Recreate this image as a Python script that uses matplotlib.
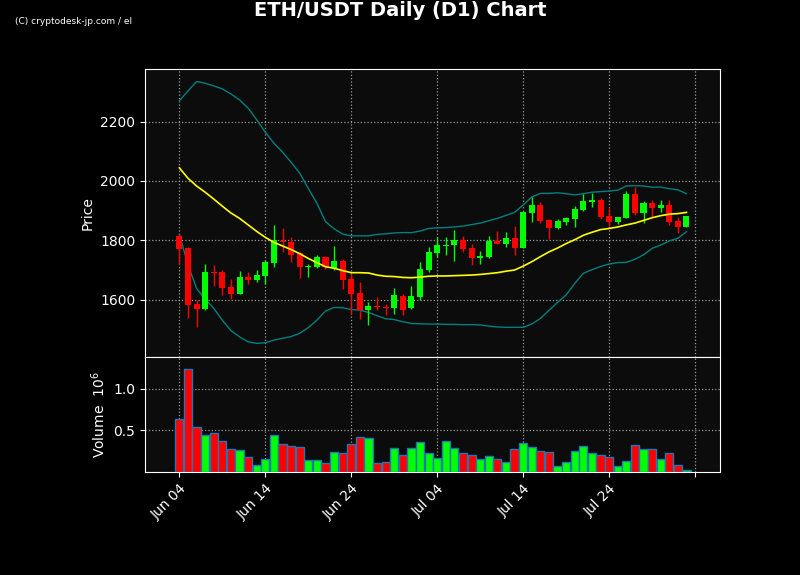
import matplotlib
matplotlib.use("Agg")
import matplotlib.pyplot as plt
import matplotlib.dates as mdates
import numpy as np
import pandas as pd

# Daily candles, Jun 04 .. Aug 02
dates = pd.date_range("2023-06-04", periods=60, freq="D")

opens = [1815, 1774, 1585, 1570, 1693, 1693, 1643, 1620, 1677, 1667,
         1681, 1725, 1799, 1794, 1756, 1710, 1711, 1744, 1708, 1730,
         1670, 1622, 1567, 1580, 1575, 1571, 1614, 1571, 1610, 1700,
         1758, 1781, 1785, 1801, 1774, 1740, 1744, 1798, 1789, 1808,
         1775, 1893, 1919, 1869, 1843, 1862, 1873, 1902, 1929, 1935,
         1881, 1862, 1876, 1956, 1893, 1926, 1909, 1919, 1865, 1846]
highs = [1820, 1778, 1599, 1721, 1716, 1699, 1669, 1696, 1692, 1699,
         1733, 1851, 1840, 1810, 1762, 1719, 1751, 1748, 1780, 1737,
         1685, 1661, 1592, 1610, 1586, 1638, 1620, 1647, 1726, 1776,
         1810, 1810, 1834, 1813, 1787, 1763, 1813, 1830, 1827, 1847,
         1899, 1946, 1930, 1872, 1871, 1880, 1917, 1955, 1958, 1942,
         1909, 1878, 1967, 1981, 1931, 1937, 1937, 1937, 1878, 1881]
lows = [1719, 1539, 1507, 1564, 1646, 1616, 1604, 1618, 1652, 1661,
        1654, 1709, 1760, 1726, 1672, 1678, 1706, 1702, 1701, 1636,
        1553, 1534, 1515, 1565, 1548, 1551, 1549, 1569, 1598, 1694,
        1745, 1749, 1729, 1760, 1716, 1721, 1739, 1788, 1779, 1751,
        1773, 1863, 1857, 1803, 1837, 1853, 1844, 1900, 1911, 1871,
        1849, 1855, 1874, 1884, 1857, 1880, 1894, 1851, 1825, 1846]
closes = [1772, 1583, 1570, 1693, 1690, 1640, 1620, 1676, 1667, 1683,
          1727, 1800, 1793, 1752, 1711, 1713, 1744, 1709, 1730, 1667,
          1619, 1566, 1579, 1574, 1571, 1616, 1566, 1612, 1703, 1761,
          1784, 1785, 1801, 1772, 1742, 1747, 1798, 1789, 1808, 1775,
          1896, 1919, 1866, 1843, 1865, 1874, 1904, 1933, 1936, 1880,
          1862, 1878, 1956, 1893, 1926, 1910, 1919, 1863, 1846, 1881]
volumes = [0.635, 1.242, 0.540, 0.444, 0.468, 0.373, 0.278, 0.266, 0.183, 0.087,
           0.159, 0.444, 0.337, 0.313, 0.302, 0.147, 0.147, 0.111, 0.242, 0.230,
           0.337, 0.421, 0.409, 0.111, 0.123, 0.290, 0.206, 0.290, 0.361, 0.230,
           0.171, 0.373, 0.290, 0.230, 0.206, 0.159, 0.194, 0.159, 0.123, 0.278,
           0.349, 0.302, 0.254, 0.242, 0.075, 0.123, 0.254, 0.313, 0.230, 0.206,
           0.183, 0.075, 0.135, 0.325, 0.278, 0.278, 0.159, 0.230, 0.087, 0.028]

# Bollinger bands (20-day)
bb_upper = [2270, 2303, 2335, 2329, 2320, 2310, 2293, 2273, 2245, 2206,
            2164, 2127, 2097, 2063, 2026, 1975, 1925, 1863, 1839, 1821,
            1815, 1815, 1815, 1820, 1822, 1825, 1826, 1826, 1831, 1840,
            1842, 1843, 1845, 1848, 1853, 1858, 1866, 1874, 1884, 1894,
            1919, 1946, 1958, 1958, 1960, 1957, 1953, 1957, 1962, 1964,
            1966, 1969, 1983, 1984, 1983, 1979, 1979, 1974, 1970, 1957]
bb_mid = [2044, 2009, 1983, 1962, 1939, 1915, 1892, 1874, 1852, 1830,
          1810, 1793, 1781, 1769, 1755, 1739, 1725, 1711, 1706, 1698,
          1691, 1691, 1690, 1683, 1679, 1678, 1675, 1674, 1676, 1679,
          1680, 1680, 1681, 1682, 1683, 1685, 1688, 1691, 1696, 1700,
          1713, 1728, 1745, 1761, 1774, 1789, 1802, 1817, 1827, 1836,
          1840, 1845, 1852, 1858, 1867, 1876, 1883, 1888, 1890, 1894]
bb_lower = [1820, 1717, 1638, 1602, 1571, 1531, 1496, 1475, 1458, 1453,
            1455, 1464, 1470, 1476, 1487, 1506, 1531, 1562, 1574, 1573,
            1567, 1565, 1557, 1546, 1536, 1533, 1526, 1520, 1519, 1518,
            1518, 1517, 1517, 1516, 1516, 1515, 1511, 1508, 1507, 1507,
            1507, 1518, 1537, 1564, 1591, 1616, 1655, 1689, 1701, 1712,
            1720, 1725, 1726, 1736, 1751, 1773, 1784, 1798, 1807, 1829]

tick_dates = pd.to_datetime(["2023-06-04", "2023-06-14", "2023-06-24", "2023-07-04",
                             "2023-07-14", "2023-07-24", "2023-08-03"])
tick_labels = ["Jun 04", "Jun 14", "Jun 24", "Jul 04", "Jul 14", "Jul 24", ""]

UP = "#00ff00"
DOWN = "#ff0000"
BG = "#0c0c0c"

x = mdates.date2num(dates)
o = np.array(opens)
c = np.array(closes)
colors = [UP if cc >= oo else DOWN for oo, cc in zip(o, c)]

fig = plt.figure(figsize=(8, 5.75), dpi=100, facecolor="black")
ax = fig.add_axes([0.18125, 0.3791, 0.71875, 0.5009])
axv = fig.add_axes([0.18125, 0.1791, 0.71875, 0.2], sharex=ax)

for a in (ax, axv):
    a.set_facecolor(BG)
    for s in a.spines.values():
        s.set_color("white")
    a.tick_params(colors="white", labelsize=10)
    a.grid(True, color="#9a9a9a", linestyle=":", linewidth=0.9)
    a.set_axisbelow(True)

# candles
ax.vlines(x, lows, highs, colors=colors, linewidth=1.0, zorder=3)
ax.bar(x, c - o, bottom=o, width=0.7, color=colors, linewidth=0, zorder=4)
# bands
ax.plot(x, bb_upper, color="#008080", linewidth=1.0, zorder=2)
ax.plot(x, bb_lower, color="#008080", linewidth=1.0, zorder=2)
ax.plot(x, bb_mid, color="#ffff00", linewidth=1.2, zorder=5)

ax.set_ylim(1407, 2377)
ax.set_yticks([1600, 1800, 2000, 2200])
ax.set_ylabel("Price", color="white", fontsize=10)
ax.tick_params(axis="x", labelbottom=False, length=0)

# volume
axv.bar(x, volumes, width=0.95, color=colors, edgecolor="#1f77b4", linewidth=1.0, zorder=3)
axv.set_ylim(0, 1.38)
axv.set_yticks([0.5, 1.0])
axv.set_ylabel("Volume  $10^6$", color="white", fontsize=10)

axv.set_xlim(x[0] - 4.0, x[0] + 62.9)
axv.set_xticks(mdates.date2num(tick_dates))
axv.set_xticklabels(tick_labels, rotation=45, ha="right", rotation_mode="anchor")

fig.text(0.5, 0.981, "ETH/USDT Daily (D1) Chart", color="white", fontsize=14,
         fontweight="bold", ha="center", va="center")
fig.text(0.019, 0.963, "(C) cryptodesk-jp.com / el", color="white", fontsize=6.5,
         ha="left", va="center", family=["Liberation Sans Narrow", "DejaVu Sans"])

fig.savefig("out.png", dpi=100, facecolor="black")
